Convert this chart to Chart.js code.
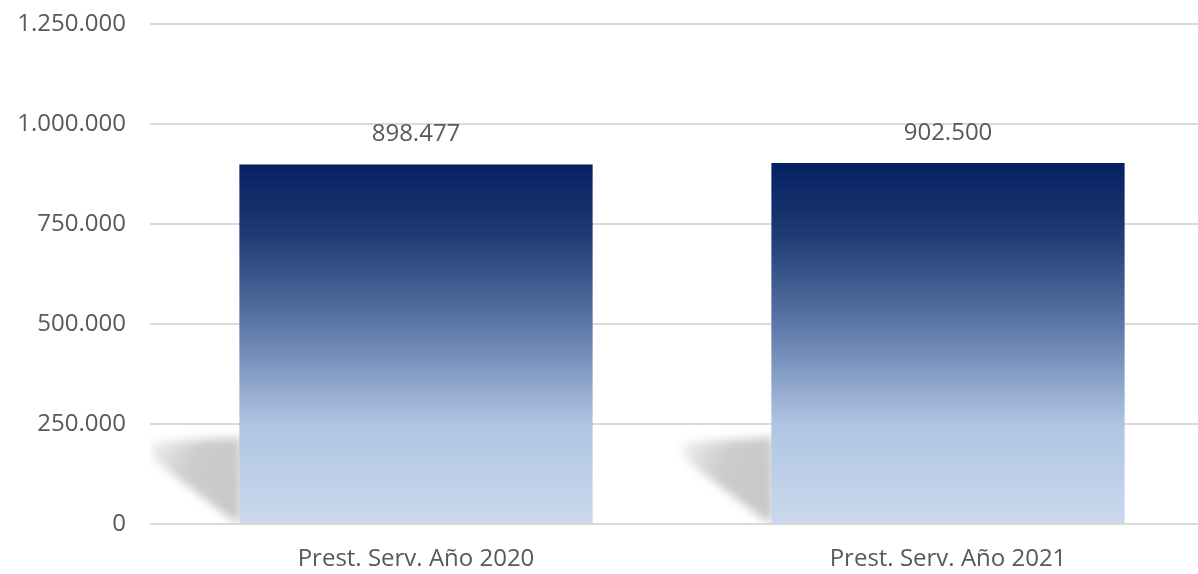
<!DOCTYPE html>
<html>
<head>
<meta charset="utf-8">
<script src="https://cdn.jsdelivr.net/npm/chart.js@4/dist/chart.umd.min.js"></script>
<style>
  html, body { margin: 0; padding: 0; background: #fff; overflow: hidden; }
  #wrap { width: 1214px; height: 574px; position: relative; }
</style>
</head>
<body>
<div id="wrap"><canvas id="prestChart"></canvas></div>
<script>
// --- Data ---
const categories = ['Prest. Serv. Año 2020', 'Prest. Serv. Año 2021'];
const values = [898477, 902500];
const yTicks = [0, 250000, 500000, 750000, 1000000, 1250000];

const TEXT_COLOR = '#595959';
const FONT = "'Open Sans', 'Noto Sans', sans-serif";
const FONT_SIZE = 24;

// 1.250.000 style
function fmt(n) {
    return String(Math.round(n)).replace(/\B(?=(\d{3})+(?!\d))/g, '.');
}

// soft shadow to the left of each bar base
const barShadow = {
    id: 'barShadow',
    beforeDatasetsDraw(chart) {
        const ctx = chart.ctx;
        const meta = chart.getDatasetMeta(0);
        const area = chart.chartArea;
        ctx.save();
        ctx.beginPath();
        ctx.rect(area.left, area.top, area.right - area.left, area.bottom - area.top);
        ctx.clip();
        meta.data.forEach(bar => {
            const left = bar.x - bar.width / 2;
            const base = bar.base;
            const g = ctx.createLinearGradient(left - 90, base - 85, left, base - 40);
            g.addColorStop(0, 'rgba(190,190,190,0.2)');
            g.addColorStop(0.5, 'rgba(195,195,195,0.85)');
            g.addColorStop(1, 'rgba(200,200,200,1)');
            ctx.filter = 'blur(5px)';
            ctx.fillStyle = g;
            ctx.beginPath();
            ctx.moveTo(left + 2, base - 86);
            ctx.lineTo(left - 90, base - 80);
            ctx.lineTo(left - 84, base - 62);
            ctx.lineTo(left - 6, base - 2);
            ctx.lineTo(left + 2, base - 2);
            ctx.closePath();
            ctx.fill();
        });
        ctx.restore();
    }
};

// value labels above bars
const valueLabels = {
    id: 'valueLabels',
    afterDatasetsDraw(chart) {
        const ctx = chart.ctx;
        const meta = chart.getDatasetMeta(0);
        ctx.save();
        ctx.font = `${FONT_SIZE}px ${FONT}`;
        ctx.fillStyle = TEXT_COLOR;
        ctx.textAlign = 'center';
        ctx.textBaseline = 'middle';
        meta.data.forEach((bar, i) => {
            ctx.fillText(fmt(values[i]), bar.x, bar.y - 30);
        });
        ctx.restore();
    }
};

function barGradient(context) {
    const chart = context.chart;
    const area = chart.chartArea;
    if (!area) return '#1f3f7a';
    const y = chart.scales.y;
    const top = y.getPixelForValue(Math.max(...values));
    const g = chart.ctx.createLinearGradient(0, top, 0, area.bottom);
    g.addColorStop(0, '#052060');
    g.addColorStop(0.2, '#1e3b74');
    g.addColorStop(0.45, '#5c78a8');
    g.addColorStop(0.72, '#afc4e2');
    g.addColorStop(1, '#cad9ed');
    return g;
}

document.addEventListener('DOMContentLoaded', () => {
    const ctx = document.getElementById('prestChart').getContext('2d');
    new Chart(ctx, {
        type: 'bar',
        data: {
            labels: categories,
            datasets: [{
                data: values,
                backgroundColor: barGradient,
                borderWidth: 0,
                categoryPercentage: 1,
                barPercentage: 0.664
            }]
        },
        options: {
            responsive: true,
            maintainAspectRatio: false,
            animation: false,
            layout: { padding: { top: 24, left: 0, right: 0, bottom: 0 } },
            plugins: {
                legend: { display: false },
                tooltip: { enabled: false }
            },
            scales: {
                x: {
                    grid: { display: false, drawTicks: false },
                    border: { display: false },
                    ticks: {
                        color: TEXT_COLOR,
                        font: { family: FONT, size: FONT_SIZE },
                        padding: 21,
                        maxRotation: 0
                    },
                    afterFit(scale) { scale.height = 50; }
                },
                y: {
                    min: 0,
                    max: yTicks[yTicks.length - 1],
                    afterBuildTicks(scale) {
                        scale.ticks = yTicks.map(v => ({ value: v }));
                    },
                    grid: { color: '#d9d9d9', lineWidth: 2, drawTicks: false },
                    border: { display: false },
                    ticks: {
                        color: TEXT_COLOR,
                        font: { family: FONT, size: FONT_SIZE },
                        padding: 24,
                        callback: v => fmt(v)
                    },
                    afterFit(scale) {
                        scale.width = 150;
                        scale.paddingTop = 0;
                        scale.paddingBottom = 0;
                    }
                }
            }
        },
        plugins: [barShadow, valueLabels],
    });
});
</script>
</body>
</html>
